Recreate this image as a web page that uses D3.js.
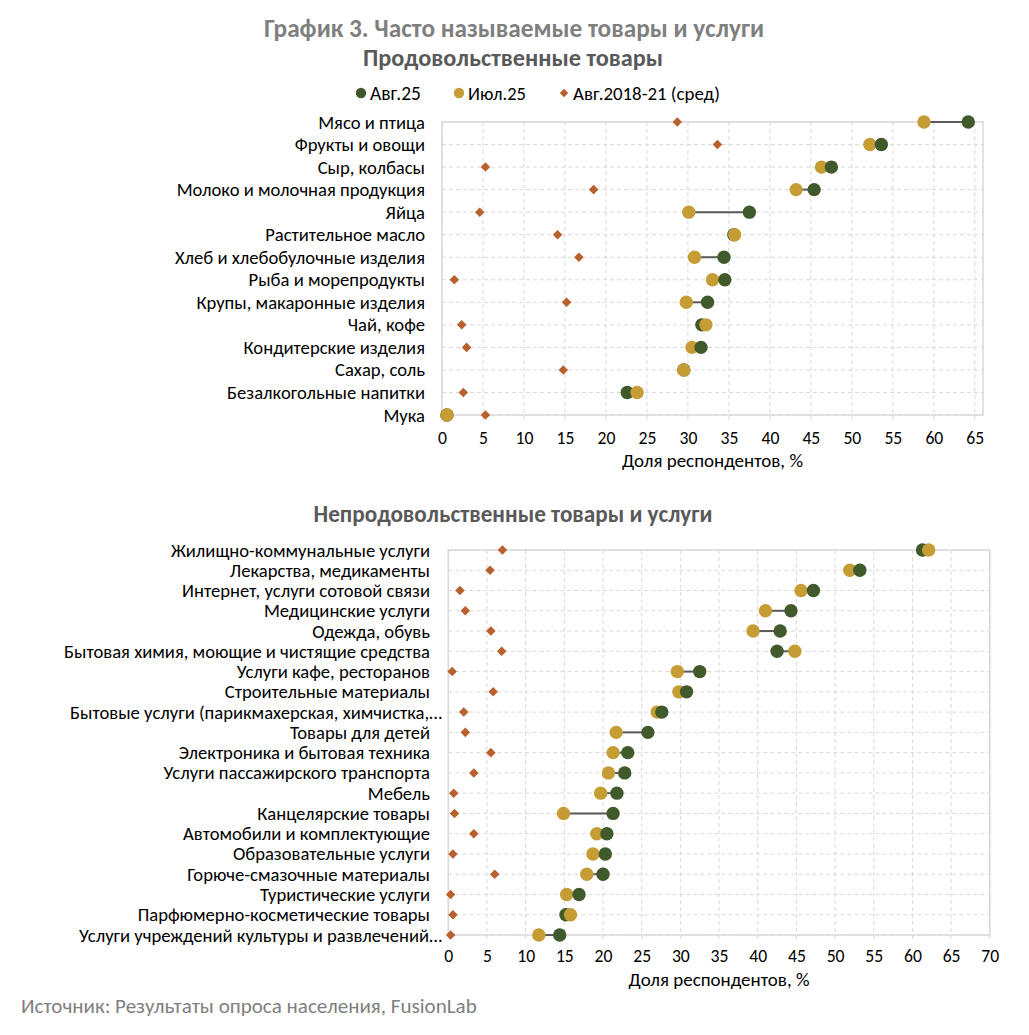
<!DOCTYPE html>
<html>
<head>
<meta charset="utf-8">
<script src="https://cdn.jsdelivr.net/npm/d3@7"></script>
<style>
  body { margin: 0; background: #fff; }
  svg { font-family: Carlito, "Open Sans", sans-serif; }
</style>
</head>
<body>
<svg id="chart" width="1029" height="1035"></svg>
<script>
// data
var foodCats = ["Мясо и птица", "Фрукты и овощи", "Сыр, колбасы", "Молоко и молочная продукция",
  "Яйца", "Растительное масло", "Хлеб и хлебобулочные изделия", "Рыба и морепродукты",
  "Крупы, макаронные изделия", "Чай, кофе", "Кондитерские изделия", "Сахар, соль",
  "Безалкогольные напитки", "Мука"];
var foodAug25 = [64.2, 53.6, 47.5, 45.4, 37.5, 35.6, 34.4, 34.5, 32.4, 31.7, 31.6, 29.5, 22.6, 0.6];
var foodJul25 = [58.8, 52.2, 46.3, 43.2, 30.1, 35.7, 30.8, 33.0, 29.8, 32.2, 30.5, 29.5, 23.8, 0.6];
var foodAvg = [28.7, 33.6, 5.3, 18.5, 4.6, 14.1, 16.7, 1.5, 15.2, 2.4, 3.0, 14.8, 2.6, 5.3];
var foodTicks = [0, 5, 10, 15, 20, 25, 30, 35, 40, 45, 50, 55, 60, 65];

var nonfoodCats = ["Жилищно-коммунальные услуги", "Лекарства, медикаменты", "Интернет, услуги сотовой связи",
  "Медицинские услуги", "Одежда, обувь", "Бытовая химия, моющие и чистящие средства",
  "Услуги кафе, ресторанов", "Строительные материалы", "Бытовые услуги (парикмахерская, химчистка,…",
  "Товары для детей", "Электроника и бытовая техника", "Услуги пассажирского транспорта", "Мебель",
  "Канцелярские товары", "Автомобили и комплектующие", "Образовательные услуги",
  "Горюче-смазочные материалы", "Туристические услуги", "Парфюмерно-косметические товары",
  "Услуги учреждений культуры и развлечений…"];
var nonfoodAug25 = [61.3, 53.2, 47.2, 44.3, 42.9, 42.5, 32.5, 30.8, 27.6, 25.8, 23.2, 22.8, 21.8,
  21.3, 20.5, 20.3, 20.0, 16.9, 15.2, 14.4];
var nonfoodJul25 = [62.1, 51.9, 45.6, 41.0, 39.4, 44.8, 29.6, 29.8, 27.0, 21.7, 21.3, 20.7, 19.7,
  14.9, 19.2, 18.7, 17.9, 15.3, 15.8, 11.7];
var nonfoodAvg = [7.0, 5.4, 1.5, 2.2, 5.5, 6.9, 0.5, 5.8, 2.0, 2.2, 5.5, 3.3, 0.7, 0.8, 3.3, 0.6,
  6.0, 0.3, 0.6, 0.3];
var nonfoodTicks = [0, 5, 10, 15, 20, 25, 30, 35, 40, 45, 50, 55, 60, 65, 70];

var legendNames = ["Авг.25", "Июл.25", "Авг.2018-21 (сред)"];

var greenColor = "#415a2c";
var goldColor = "#c69c35";
var rustColor = "#b8612f";
var gridColor = "#d9d9d9";

var svg = d3.select("#chart");

// shrink/grow the font so the text spans the width seen in the picture
function fitText(sel, width) {
  var size = parseFloat(sel.style("font-size"));
  var len = sel.node().getComputedTextLength();
  sel.style("font-size", (size * width / len).toFixed(2) + "px");
  return size * width / len;
}

// axis title first, its size is reused for the tick labels
var probe = svg.append("text").style("font-size", "15px").text("Доля респондентов, %");
var axisSize = fitText(probe, 181);
probe.remove();
var tickSize = axisSize * 0.93;

function drawPanel(cats, aug, jul, avg, ticks, box) {
  var x = d3.scaleLinear().domain([0, box.xmax]).range([box.x0, box.x1]);
  var y = d3.scalePoint().domain(cats).range([box.y0, box.y1]).padding(0);
  var g = svg.append("g");

  // horizontal dashed grid
  g.selectAll("line.hgrid").data(cats).enter().append("line")
    .attr("class", "hgrid")
    .attr("x1", box.x0).attr("x2", box.x1)
    .attr("y1", function (d) { return y(d); })
    .attr("y2", function (d) { return y(d); })
    .style("stroke", gridColor).style("stroke-width", 1)
    .style("stroke-dasharray", "4,3");
  // vertical dashed grid, a bit past the bottom like tick marks
  g.selectAll("line.vgrid").data(ticks).enter().append("line")
    .attr("class", "vgrid")
    .attr("x1", function (d) { return x(d); })
    .attr("x2", function (d) { return x(d); })
    .attr("y1", box.y0).attr("y2", box.y1 + 6)
    .style("stroke", gridColor).style("stroke-width", 1)
    .style("stroke-dasharray", "4,3");
  // plot frame
  g.append("rect")
    .attr("x", box.x0).attr("y", box.y0)
    .attr("width", box.x1 - box.x0).attr("height", box.y1 - box.y0)
    .style("fill", "none").style("stroke", gridColor).style("stroke-width", 1.5);

  // tick labels
  var axis = d3.axisBottom(x).tickValues(ticks).tickSize(0).tickPadding(0);
  var ax = g.append("g").attr("transform", "translate(0," + (box.y1 + box.tickGap) + ")").call(axis);
  ax.select(".domain").remove();
  ax.selectAll("text").style("font-size", tickSize.toFixed(2) + "px").style("fill", "#000")
    .style("font-family", "Carlito, 'Open Sans', sans-serif");

  g.append("text")
    .attr("x", (box.x0 + box.x1) / 2).attr("y", box.y1 + box.titleGap)
    .attr("text-anchor", "middle")
    .style("font-size", axisSize.toFixed(2) + "px").style("fill", "#000")
    .text("Доля респондентов, %");

  // category labels
  var labels = g.selectAll("text.cat").data(cats).enter().append("text")
    .attr("class", "cat")
    .attr("x", function (d) { return d.slice(-1) === "…" ? box.labelX + 12 : box.labelX; })
    .attr("y", function (d) { return y(d); })
    .attr("dy", "0.35em")
    .attr("text-anchor", "end")
    .style("font-size", "15px").style("fill", "#000")
    .text(function (d) { return d; });

  // connectors between Jul and Aug
  g.selectAll("line.conn").data(cats).enter().append("line")
    .attr("class", "conn")
    .attr("x1", function (d, i) { return x(jul[i]); })
    .attr("x2", function (d, i) { return x(aug[i]); })
    .attr("y1", function (d) { return y(d); })
    .attr("y2", function (d) { return y(d); })
    .style("stroke", "#595959").style("stroke-width", 2);

  // diamonds for the 2018-21 average
  g.selectAll("path.avg").data(cats).enter().append("path")
    .attr("class", "avg")
    .attr("d", d3.symbol().type(d3.symbolDiamond2).size(58))
    .attr("transform", function (d, i) { return "translate(" + x(avg[i]) + "," + y(d) + ")"; })
    .style("fill", rustColor);

  // the two dots per row, the right one drawn on top (Jul on top when equal)
  var dots = [];
  cats.forEach(function (c, i) {
    var pair = [[c, aug[i], greenColor], [c, jul[i], goldColor]];
    pair.sort(function (a, b) { return a[1] - b[1]; });
    dots.push(pair[0], pair[1]);
  });
  g.selectAll("circle.dot").data(dots).enter().append("circle")
    .attr("class", "dot")
    .attr("cx", function (dp) { return x(dp[1]); })
    .attr("cy", function (dp) { return y(dp[0]); })
    .attr("r", 6.7)
    .style("fill", function (dp) { return dp[2]; });

  return labels;
}

// titles
svg.append("text").attr("x", 514).attr("y", 37).attr("text-anchor", "middle")
  .style("font-size", "21px").style("font-weight", "bold").style("fill", "#7f7f7f")
  .text("График 3. Часто называемые товары и услуги").call(fitText, 500);
svg.append("text").attr("x", 513).attr("y", 66).attr("text-anchor", "middle")
  .style("font-size", "18px").style("font-weight", "bold").style("fill", "#595959")
  .text("Продовольственные товары").call(fitText, 300);
svg.append("text").attr("x", 513).attr("y", 522).attr("text-anchor", "middle")
  .style("font-size", "18px").style("font-weight", "bold").style("fill", "#595959")
  .text("Непродовольственные товары и услуги").call(fitText, 399);

// legend
var legendX = [361, 459, 564];
var legendW = [51, 58, 147];
var legendColors = [greenColor, goldColor, rustColor];
var leg = svg.selectAll("g.leg").data(legendNames).enter().append("g")
  .attr("class", "leg")
  .attr("transform", function (d, i) { return "translate(" + legendX[i] + ",93)"; });
leg.append("path")
  .attr("d", function (d, i) {
    return d3.symbol().type(i === 2 ? d3.symbolDiamond2 : d3.symbolCircle).size(i === 2 ? 45 : 85)();
  })
  .style("fill", function (d, i) { return legendColors[i]; });
leg.append("text")
  .attr("x", 9).attr("dy", "0.35em")
  .style("font-size", "15px").style("fill", "#000")
  .text(function (d) { return d; })
  .each(function (d, i) { fitText(d3.select(this), legendW[i]); });

var topLabels = drawPanel(foodCats, foodAug25, foodJul25, foodAvg, foodTicks,
  { x0: 442, x1: 983, xmax: 66, y0: 122, y1: 415, labelX: 425, tickGap: 16, titleGap: 52 });
var bottomLabels = drawPanel(nonfoodCats, nonfoodAug25, nonfoodJul25, nonfoodAvg, nonfoodTicks,
  { x0: 448.3, x1: 989.8, xmax: 70, y0: 550, y1: 935, labelX: 430, tickGap: 14, titleGap: 51 });

// scale the category font from one label's width in the picture
var ref = bottomLabels.filter(function (d) { return d === "Бытовая химия, моющие и чистящие средства"; });
var labelSize = 15 * 366 / ref.node().getComputedTextLength();
topLabels.style("font-size", labelSize.toFixed(2) + "px");
bottomLabels.style("font-size", labelSize.toFixed(2) + "px");

// source
svg.append("text").attr("x", 21).attr("y", 1013)
  .style("font-size", "17px").style("fill", "#808080")
  .text("Источник: Результаты опроса населения, FusionLab").call(fitText, 456);
</script>
</body>
</html>
